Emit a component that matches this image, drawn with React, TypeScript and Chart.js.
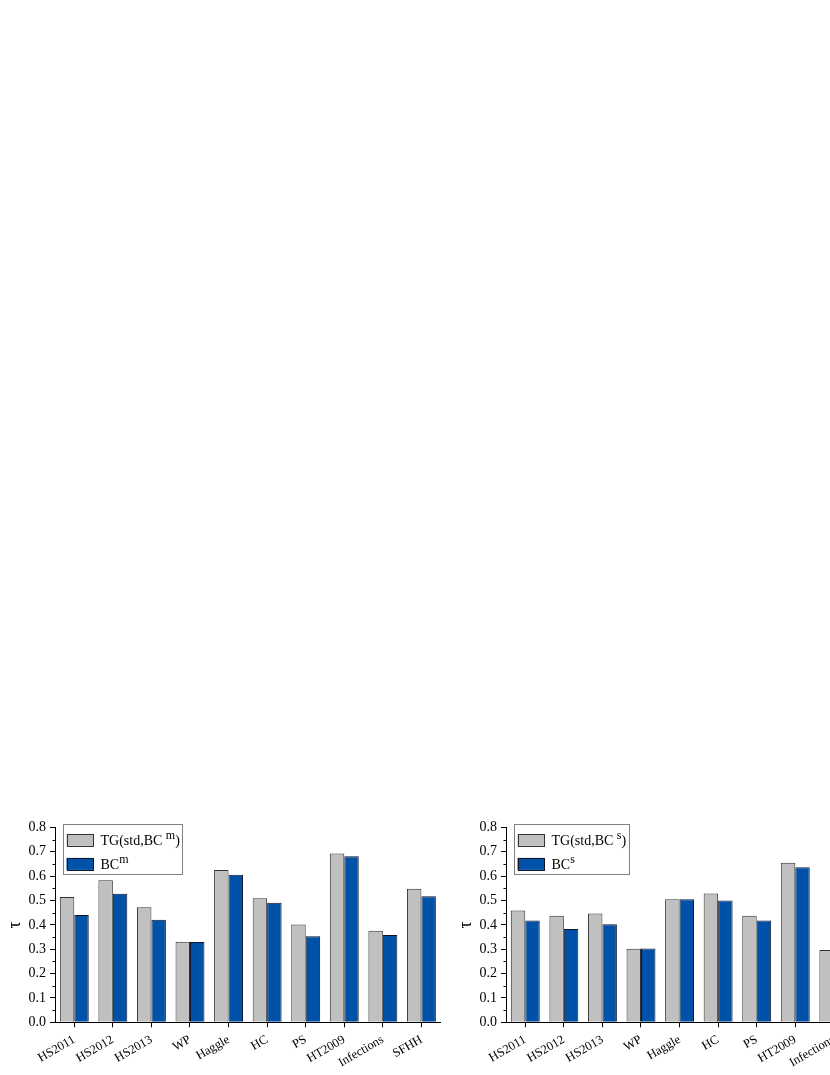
import React, { useEffect, useRef } from 'react';
import { Chart, registerables } from 'chart.js';

Chart.register(...registerables);

// ---- data ----
const categories = ['HS2011', 'HS2012', 'HS2013', 'WP', 'Haggle', 'HC', 'PS', 'HT2009', 'Infections', 'SFHH'];

// left panel (multi)
const tgStdBCm = [0.514, 0.583, 0.472, 0.331, 0.625, 0.509, 0.401, 0.693, 0.376, 0.548];
const bcM = [0.440, 0.528, 0.421, 0.330, 0.606, 0.491, 0.353, 0.682, 0.358, 0.517];

// right panel (single) - last values are outside the visible picture
const tgStdBCs = [0.459, 0.437, 0.447, 0.302, 0.505, 0.529, 0.437, 0.655, 0.297, null];
const bcS = [0.418, 0.383, 0.402, 0.303, 0.505, 0.500, 0.418, 0.636, null, null];

const yMin = 0;
const yMax = 0.8;
const yStep = 0.1;
const yMinorTicks = [0.05, 0.15, 0.25, 0.35, 0.45, 0.55, 0.65, 0.75];
const yTitle = 'τ';

const GRAY = '#C0C0C0';
const GRAY_EDGE = '#333333';
const BLUE = '#0052A8';
const BLUE_EDGE = '#15152a';
const FONT = '"Liberation Serif", "Times New Roman", serif';

type Part = { t: string; sup?: boolean };
type Entry = { fill: string; stroke: string; parts: Part[] };

function legendPlugin(entries: Entry[]) {
  return {
    id: 'boxLegend',
    afterDraw(chart: any) {
      const { ctx, chartArea } = chart;
      const bx = chartArea.left + 8;
      const by = chartArea.top - 3.5;
      const mainFont = `14px ${FONT}`;
      const supFont = `12px ${FONT}`;
      ctx.save();
      const textX = bx + 37.5;
      let maxW = 0;
      entries.forEach((e) => {
        let w = 0;
        e.parts.forEach((p) => {
          ctx.font = p.sup ? supFont : mainFont;
          w += ctx.measureText(p.t).width;
        });
        if (w > maxW) maxW = w;
      });
      const boxW = textX + maxW + 2.5 - bx;
      const boxH = 50;
      ctx.fillStyle = '#ffffff';
      ctx.fillRect(bx, by, boxW, boxH);
      ctx.strokeStyle = '#808080';
      ctx.lineWidth = 1;
      ctx.strokeRect(Math.round(bx) + 0.5, Math.round(by) + 0.5, Math.round(boxW), boxH);
      entries.forEach((e, i) => {
        const cy = by + 16 + i * 24;
        ctx.fillStyle = e.fill;
        ctx.fillRect(bx + 3.5, cy - 6, 26.5, 12);
        ctx.strokeStyle = e.stroke;
        ctx.strokeRect(Math.round(bx + 3.5) + 0.5, Math.round(cy - 6) + 0.5, 26, 12);
        let x = textX;
        ctx.fillStyle = '#000';
        ctx.textBaseline = 'alphabetic';
        ctx.textAlign = 'left';
        e.parts.forEach((p) => {
          ctx.font = p.sup ? supFont : mainFont;
          ctx.fillText(p.t, x, p.sup ? cy - 1 : cy + 5);
          x += ctx.measureText(p.t).width;
        });
      });
      ctx.restore();
    },
  };
}

const minorTickPlugin = {
  id: 'minorTicks',
  afterDraw(chart: any) {
    const { ctx, scales } = chart;
    const y = scales.y;
    const left = chart.chartArea.left;
    ctx.save();
    ctx.strokeStyle = '#000';
    ctx.lineWidth = 1;
    yMinorTicks.forEach((v) => {
      const py = Math.round(y.getPixelForValue(v)) + 0.5;
      ctx.beginPath();
      ctx.moveTo(left - 2.5, py);
      ctx.lineTo(left, py);
      ctx.stroke();
    });
    ctx.restore();
  },
};

function BarPanel(props: { tg: (number | null)[]; bc: (number | null)[]; entries: Entry[] }) {
  const ref = useRef<HTMLCanvasElement | null>(null);
  useEffect(() => {
    if (!ref.current) return;
    const chart = new Chart(ref.current, {
      type: 'bar',
      data: {
        labels: categories,
        datasets: [
          {
            label: 'TG',
            data: props.tg as any,
            backgroundColor: GRAY,
            borderColor: GRAY_EDGE,
            borderWidth: 1,
            categoryPercentage: 0.75,
            barPercentage: 1.0,
          },
          {
            label: 'BC',
            data: props.bc as any,
            backgroundColor: BLUE,
            borderColor: BLUE_EDGE,
            borderWidth: 1,
            categoryPercentage: 0.75,
            barPercentage: 1.0,
          },
        ],
      },
      options: {
        animation: false,
        responsive: false,
        maintainAspectRatio: false,
        layout: { padding: { top: 12.3, right: 9.3, left: 0, bottom: 0 } },
        plugins: {
          legend: { display: false },
          tooltip: { enabled: false },
        },
        scales: {
          x: {
            grid: {
              display: true,
              drawOnChartArea: false,
              drawTicks: true,
              tickLength: 5,
              offset: false,
              color: '#000',
            },
            border: { display: true, color: '#000', width: 1 },
            ticks: {
              color: '#000',
              font: { family: FONT, size: 12.5 },
              minRotation: 30,
              maxRotation: 30,
              autoSkip: false,
              padding: 5,
            },
            afterFit: (s: any) => {
              s.height = 52.7;
            },
          },
          y: {
            min: yMin,
            max: yMax,
            grid: {
              display: true,
              drawOnChartArea: false,
              drawTicks: true,
              tickLength: 5,
              color: '#000',
            },
            border: { display: true, color: '#000', width: 1 },
            ticks: {
              stepSize: yStep,
              color: '#000',
              font: { family: FONT, size: 14 },
              padding: 4,
              callback: (v: any) => Number(v).toFixed(1),
            },
            title: {
              display: true,
              text: yTitle,
              color: '#000',
              font: { family: FONT, size: 18 },
              padding: { top: 4, bottom: 0 },
            },
            afterFit: (s: any) => {
              s.width = 55;
            },
          },
        },
      },
      plugins: [legendPlugin(props.entries), minorTickPlugin],
    });
    return () => chart.destroy();
  }, []);
  return <canvas ref={ref} width={450} height={260} style={{ display: 'block', width: 450, height: 260 }} />;
}

const leftEntries: Entry[] = [
  { fill: GRAY, stroke: GRAY_EDGE, parts: [{ t: 'TG(std,BC ' }, { t: 'm', sup: true }, { t: ')' }] },
  { fill: BLUE, stroke: BLUE_EDGE, parts: [{ t: 'BC' }, { t: 'm', sup: true }] },
];
const rightEntries: Entry[] = [
  { fill: GRAY, stroke: GRAY_EDGE, parts: [{ t: 'TG(std,BC ' }, { t: 's', sup: true }, { t: ')' }] },
  { fill: BLUE, stroke: BLUE_EDGE, parts: [{ t: 'BC' }, { t: 's', sup: true }] },
];

export default function App() {
  return (
    <div
      style={{
        position: 'absolute',
        left: 0,
        top: 0,
        width: 830,
        height: 1075,
        overflow: 'hidden',
        background: '#fff',
      }}
    >
      <div style={{ position: 'absolute', left: 0, top: 815 }}>
        <BarPanel tg={tgStdBCm} bc={bcM} entries={leftEntries} />
      </div>
      <div style={{ position: 'absolute', left: 451, top: 815 }}>
        <BarPanel tg={tgStdBCs} bc={bcS} entries={rightEntries} />
      </div>
    </div>
  );
}
